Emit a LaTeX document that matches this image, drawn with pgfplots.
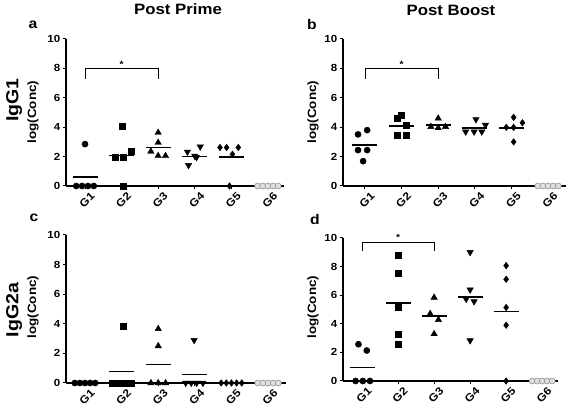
\documentclass[border=0pt]{standalone}
\usepackage{fontspec}
\setmainfont{Liberation Sans}[FakeStretch=1.12]
\usepackage{pgfplots}
\pgfplotsset{compat=1.18}
\newcommand\tickfont{\fontsize{10.3}{10.3}\selectfont\bfseries}
\pgfplotsset{
 panel/.style={scale only axis, anchor=south west, ymin=0, ymax=10,
   ytick={0,2,4,6,8,10}, xtick={1,2,3,4,5,6}, xticklabels={G1,G2,G3,G4,G5,G6},
   axis lines*=left, clip=false, tick align=outside, major tick length=3.5pt,
   tick style={black,line width=1pt}, axis line style={black,line width=1.1pt},
   /pgf/number format/assume math mode=true,
   every tick label/.append style={font=\tickfont},
   every x tick label/.append style={rotate=45, anchor=north east, inner sep=0pt, yshift=-5pt, xshift=2pt, font=\fontsize{10.8}{10.8}\selectfont\bfseries},
   every y tick label/.append style={inner sep=2pt}},
 grp1/.style={only marks, mark=*, mark size=3.1pt, black},
 grp2/.style={only marks, mark=square*, mark size=3.0pt, black},
 grp3/.style={only marks, mark=triangle*, mark size=3.7pt, black},
 grp4/.style={only marks, mark=triangle*, mark size=3.7pt, black, mark options={rotate=180}},
 grp5/.style={only marks, mark=diamond*, mark size=3.3pt, black},
 grp6/.style={only marks, mark=*, mark size=3pt, mark options={draw=gray!85, fill=gray!25, line width=0.6pt}},
 means/.style={only marks, mark=-, mark size=12.5pt, mark options={line width=1.5pt}, black},
}
\begin{document}
\begin{tikzpicture}
\path[use as bounding box] (0,0) rectangle (567pt,411pt);
% ---------- a
\begin{axis}[panel, at={(66pt,225pt)}, width=218pt, height=147pt, xmin=0.48, xmax=6.44]
\addplot[grp1] coordinates {(0.76,0) (0.92,0) (1.08,0) (1.24,0) (1.0,2.85)};
\addplot[grp2] coordinates {(2.03,4.08) (2.25,2.39) (1.82,1.98) (2.04,1.98) (2.04,0)};
\addplot[grp3] coordinates {(3.0,3.63) (3.0,2.95) (2.8,2.35) (3.0,2.05) (3.2,2.05)};
\addplot[grp4] coordinates {(3.8,2.32) (4.0,2.05) (4.15,2.67) (3.83,1.41) (4.05,1.95)};
\addplot[grp5] coordinates {(4.69,2.62) (4.87,2.62) (5.19,2.62) (5.03,2.16) (4.95,0)};
\addplot[grp6] coordinates {(5.72,0) (5.86,0) (6,0) (6.14,0) (6.28,0)};
\addplot[means] coordinates {(1,0.6) (2,2.08) (3,2.62) (4,2.02) (5,1.98)};
\draw[line width=0.9pt] (axis cs:1,7.29) -- (axis cs:1,7.97) -- (axis cs:3,7.97) -- (axis cs:3,7.29);
\node[font=\fontsize{9}{9}\selectfont\bfseries] at (axis cs:2,8.3) {*};
\end{axis}
% ---------- b
\begin{axis}[panel, at={(343pt,225pt)}, width=223pt, height=147pt, xmin=0.40, xmax=6.49]
\addplot[grp1] coordinates {(0.81,3.51) (1.06,3.8) (0.81,2.44) (1.06,2.44) (0.95,1.69)};
\addplot[grp2] coordinates {(1.87,4.6) (2.0,4.83) (2.13,4.15) (1.87,3.46) (2.13,3.46)};
\addplot[grp3] coordinates {(3.0,4.6) (2.8,4.03) (3.2,4.03) (3.0,3.95)};
\addplot[grp4] coordinates {(4.03,4.53) (4.29,4.15) (3.75,3.69) (3.98,3.69) (4.19,3.69)};
\addplot[grp5] coordinates {(5.06,4.67) (5.3,4.3) (4.86,3.99) (5.06,3.99) (5.06,3.0)};
\addplot[grp6] coordinates {(5.72,0) (5.86,0) (6,0) (6.14,0) (6.28,0)};
\addplot[means] coordinates {(1,2.78) (2,4.08) (3,4.15) (4,3.93) (5,3.95)};
\draw[line width=0.9pt] (axis cs:1,7.29) -- (axis cs:1,7.97) -- (axis cs:3,7.97) -- (axis cs:3,7.29);
\node[font=\fontsize{9}{9}\selectfont\bfseries] at (axis cs:2,8.3) {*};
\end{axis}
% ---------- c
\begin{axis}[panel, at={(66pt,28pt)}, width=220pt, height=148pt, xmin=0.48, xmax=6.49]
\addplot[grp1] coordinates {(0.72,0) (0.86,0) (1,0) (1.14,0) (1.28,0)};
\addplot[grp2] coordinates {(2.03,3.86) (1.73,0) (1.91,0) (2.09,0) (2.27,0)};
\addplot[grp3] coordinates {(3,3.66) (3,2.5) (2.8,0) (3,0) (3.2,0)};
\addplot[grp4] coordinates {(3.98,2.89) (3.75,0) (3.9,0) (4.05,0) (4.22,0)};
\addplot[grp5] coordinates {(4.72,0) (4.86,0) (5,0) (5.14,0) (5.28,0)};
\addplot[grp6] coordinates {(5.72,0) (5.86,0) (6,0) (6.14,0) (6.28,0)};
\addplot[means] coordinates {(2,0.77) (3,1.24) (4,0.57)};
\end{axis}
% ---------- d
\begin{axis}[panel, at={(343pt,30pt)}, width=215pt, height=143pt, xmin=0.47, xmax=6.44]
\addplot[grp1] coordinates {(0.9,2.57) (1.13,2.13) (0.82,0) (1.02,0) (1.22,0)};
\addplot[grp2] coordinates {(2,8.79) (2,7.55) (2,5.14) (2,3.29) (2,2.59)};
\addplot[grp3] coordinates {(3,5.84) (2.89,4.7) (3.12,4.28) (3,3.29)};
\addplot[grp4] coordinates {(4,9.0) (4,6.38) (3.89,5.73) (4.11,5.56) (4,2.83)};
\addplot[grp5] coordinates {(5,8.07) (5,7.11) (5,5.14) (5,3.9) (5,0)};
\addplot[grp6] coordinates {(5.72,0) (5.86,0) (6,0) (6.14,0) (6.28,0)};
\addplot[means] coordinates {(1,0.93) (2,5.47) (3,4.56) (4,5.87) (5,4.86)};
\draw[line width=0.9pt] (axis cs:1,9.07) -- (axis cs:1,9.72) -- (axis cs:3,9.72) -- (axis cs:3,9.07);
\node[font=\fontsize{9}{9}\selectfont\bfseries] at (axis cs:2,10.05) {*};
\end{axis}
% ---------- texts
\node[font=\fontsize{15}{15}\selectfont\bfseries] at (178pt,402pt) {Post Prime};
\node[font=\fontsize{15}{15}\selectfont\bfseries] at (451pt,401pt) {Post Boost};
\node[font=\fontsize{14}{14}\selectfont\bfseries] at (33pt,386pt) {a};
\node[font=\fontsize{14}{14}\selectfont\bfseries] at (312pt,386pt) {b};
\node[font=\fontsize{14}{14}\selectfont\bfseries] at (34pt,193pt) {c};
\node[font=\fontsize{14}{14}\selectfont\bfseries] at (315pt,191pt) {d};
\node[font=\fontsize{17.5}{17.5}\selectfont\bfseries, rotate=90] at (14pt,311pt) {IgG1};
\node[font=\fontsize{17.5}{17.5}\selectfont\bfseries, rotate=90] at (14pt,101pt) {IgG2a};
\node[font=\fontsize{12}{12}\selectfont\bfseries, rotate=90] at (33pt,299pt) {log(Conc)};
\node[font=\fontsize{12}{12}\selectfont\bfseries, rotate=90] at (313pt,299pt) {log(Conc)};
\node[font=\fontsize{12}{12}\selectfont\bfseries, rotate=90] at (33pt,104pt) {log(Conc)};
\node[font=\fontsize{12}{12}\selectfont\bfseries, rotate=90] at (313pt,104pt) {log(Conc)};
\end{tikzpicture}
\end{document}
